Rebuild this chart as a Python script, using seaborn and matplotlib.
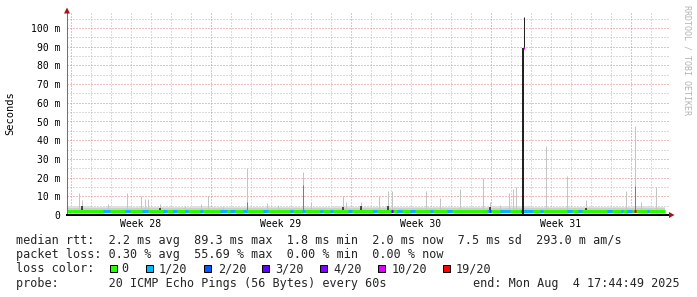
import matplotlib
matplotlib.use("Agg")
import matplotlib.pyplot as plt
from matplotlib.patches import Rectangle, Polygon
import numpy as np
import pandas as pd
import seaborn as sns

# ---------------- data (x: days since Mon 7 Jul 2025 00:00, y: ms) ----------------
week_labels = ["Week 28", "Week 29", "Week 30", "Week 31"]
week_mid_days = [3.5, 10.5, 17.5, 24.5]
week_start_days = [0, 7, 14, 21, 28]
day_lines = list(range(0, 30))
y_ticks = [0, 10, 20, 30, 40, 50, 60, 70, 80, 90, 100]
y_tick_labels = ["0", "10 m", "20 m", "30 m", "40 m", "50 m", "60 m", "70 m", "80 m", "90 m", "100 m"]
y_minor = [5, 15, 25, 35, 45, 55, 65, 75, 85, 95, 105]

data_start_day = -0.2
data_end_day = 29.7
median_ms = 1.95

# smoke (light grey band above the median line), one value per day
smoke_left_day = [-0.2, 1, 2, 3, 4, 5, 6, 7, 8, 9, 10, 11, 12, 13, 14, 15, 16, 17, 18, 19,
                  20, 21, 22, 23, 24, 25, 26, 27, 28, 29]
smoke_top_ms = [4.6, 4.3, 4.6, 4.5, 4.2, 4.3, 4.6, 4.3, 4.4, 4.2, 4.3, 4.4, 4.3, 4.6, 4.3,
                4.4, 4.5, 4.3, 4.2, 4.4, 4.5, 4.7, 4.8, 4.4, 4.3, 4.5, 4.4, 4.5, 4.6, 4.3]
smoke_low_ms = 2.8
smoke_dense_ms = 3.5

# loss colour segments of the median line (default is 0 loss = green)
loss_seg_start = [1.6, 2.7, 3.55, 4.6, 5.1, 5.7, 6.45, 7.45, 7.95, 8.6, 9.6, 10.95, 11.55,
                  12.45, 12.95, 13.85, 15.1, 16.3, 16.95, 17.95, 18.8, 20.8, 21.45, 22.6,
                  23.45, 24.8, 25.35, 26.8, 27.5, 27.8, 28.8]
loss_seg_end = [1.95, 2.95, 3.85, 4.8, 5.3, 5.85, 6.6, 7.8, 8.2, 8.8, 9.85, 11.1, 11.7,
                12.6, 13.1, 14.05, 15.3, 16.55, 17.2, 18.1, 19.05, 20.95, 21.95, 23.1,
                23.6, 25.05, 25.55, 27.05, 27.6, 28.05, 28.9]
loss_seg_level = ["1/20"] * 31

loss_mark_day = [16.05, 20.95, 22.55, 28.2]
loss_mark_level = ["3/20", "2/20", "2/20", "19/20"]

# light grey smoke spikes (max rtt of a 20-ping burst)
light_spike_day = [0.4, 0.55, 1.85, 2.8, 3.5, 3.7, 3.85, 4.45, 5.7, 6.5, 6.85, 7.6, 8.8, 9.8,
                   10.35, 11.6, 12.0, 13.6, 13.75, 14.5, 15.4, 15.85, 16.05, 17.75, 18.45,
                   19.45, 20.6, 20.95, 21.45, 21.9, 22.1, 22.25, 22.55, 23.75, 24.8, 25.75,
                   27.75, 28.2, 28.5, 29.25]
light_spike_top = [11.8, 8.0, 6.0, 11.8, 10.0, 8.5, 8.5, 6.0, 5.0, 6.0, 10.0, 4.3, 25.0, 6.4,
                   5.3, 23.0, 7.0, 10.0, 7.0, 7.0, 10.0, 13.0, 12.8, 12.8, 9.0, 14.0, 20.0,
                   6.8, 5.5, 11.8, 14.0, 15.0, 26.0, 37.0, 21.0, 8.0, 12.8, 47.6, 6.8, 15.0]

# darker grey spikes
dark_spike_day = [8.8, 11.6, 28.2]
dark_spike_top = [7.0, 16.0, 15.5]

# black spikes (dense smoke)
black_spike_day = [0.55, 4.45, 13.6, 14.5, 15.85, 20.95, 25.75]
black_spike_top = [4.6, 3.8, 4.2, 4.8, 4.8, 4.5, 4.0]

# the big outage spike
big_spike_day = 22.625
big_spike_median = 89.3
big_spike_max = 106.0

loss_colors = {"0": "#26ff00", "1/20": "#00b8ff", "2/20": "#0059ff", "3/20": "#5e00ff",
               "4/20": "#7e00ff", "10/20": "#dd00ff", "19/20": "#ff0000"}

legend_line1 = "median rtt:  2.2 ms avg  89.3 ms max  1.8 ms min  2.0 ms now  7.5 ms sd  293.0 m am/s"
legend_line2 = "packet loss: 0.30 % avg  55.69 % max  0.00 % min  0.00 % now"
legend_loss_title = "loss color:"
legend_loss_keys = ["0", "1/20", "2/20", "3/20", "4/20", "10/20", "19/20"]
legend_probe = "probe:       20 ICMP Echo Pings (56 Bytes) every 60s"
legend_end = "end: Mon Aug  4 17:44:49 2025"

# ---------------- figure ----------------
W, H = 697, 297
sns.set_theme(style="white")
plt.rcParams["font.family"] = ["DejaVu Sans Mono", "DejaVu Sans"]
fig = plt.figure(figsize=(W / 100, H / 100), dpi=100)
fig.patch.set_facecolor("white")

L, R, T, B = 67, 669, 13, 215
ax = fig.add_axes([L / W, 1 - B / H, (R - L) / W, (B - T) / H])
ax.set_facecolor("white")
px_per_day = 20.0
ax.set_xlim(-0.2, -0.2 + (R - L) / px_per_day)
ax.set_ylim(0, (B - T) / 1.87)

PX = 0.72  # one pixel in points
dots = (0, (1, 2))

# grid
grid_kw = dict(lw=PX, linestyle=dots)
for y in y_minor:
    ax.axhline(y, color="#b8b8b8", zorder=0.5, **grid_kw)
for y in y_ticks[1:]:
    ax.axhline(y, color="#dd8080", zorder=0.6, **grid_kw)
for d in day_lines:
    if d not in week_start_days:
        ax.axvline(d, color="#b8b8b8", zorder=0.5, **grid_kw)
for d in week_start_days:
    ax.axvline(d, color="#dd8080", zorder=0.6, **grid_kw)

# smoke
sx = smoke_left_day + [data_end_day]
st = smoke_top_ms + [smoke_top_ms[-1]]
ax.fill_between(sx, smoke_low_ms, st, step="post", color="#e0e0e0", lw=0, zorder=1)
ax.fill_between([data_start_day, data_end_day], smoke_low_ms, smoke_dense_ms,
                color="#cdcdcd", lw=0, zorder=1.1)

# spikes
ax.vlines(light_spike_day, smoke_low_ms, light_spike_top, colors="#c4c4c4", lw=PX, zorder=1.2)
ax.vlines(dark_spike_day, smoke_low_ms, dark_spike_top, colors="#7c7c7c", lw=PX, zorder=1.3)
ax.vlines(black_spike_day, smoke_low_ms, black_spike_top, colors="#1a1a1a", lw=PX * 1.5, zorder=1.4)

# big spike
ax.vlines([big_spike_day], 0, big_spike_median, colors="#222222", lw=2 * PX, zorder=3)
ax.vlines([big_spike_day + 0.025], big_spike_median, big_spike_max, colors="#222222", lw=PX, zorder=3)
ax.vlines([big_spike_day + 0.025], big_spike_median - 0.5, big_spike_median + 0.5,
          colors=loss_colors["10/20"], lw=1.3 * PX, zorder=3.1)

# median line coloured by loss
med = pd.DataFrame({"day": [data_start_day, data_end_day], "ms": [median_ms, median_ms]})
sns.lineplot(data=med, x="day", y="ms", ax=ax, color=loss_colors["0"], lw=3 * PX,
             solid_capstyle="butt", zorder=2)
for s, e, lv in zip(loss_seg_start, loss_seg_end, loss_seg_level):
    ax.hlines(median_ms, s, e, colors=loss_colors[lv], lw=3 * PX, zorder=2.1)
for d, lv in zip(loss_mark_day, loss_mark_level):
    ax.hlines(median_ms, d - 0.05, d + 0.05, colors=loss_colors[lv], lw=3 * PX, zorder=2.2)

# axes
ax.set_xlabel("")
ax.set_ylabel("")
for s in ["top", "right"]:
    ax.spines[s].set_visible(False)
ax.spines["left"].set_color("#707070")
ax.spines["left"].set_linewidth(PX)
ax.spines["bottom"].set_color("black")
ax.spines["bottom"].set_linewidth(2 * PX)
ax.set_yticks(y_ticks)
ax.set_yticklabels(y_tick_labels, fontsize=7, color="black")
ax.set_xticks(week_mid_days)
ax.set_xticklabels(week_labels, fontsize=7, color="black")
ax.tick_params(axis="y", length=0, pad=5)
ax.tick_params(axis="x", length=0, pad=3)

# arrows
def fig_poly(points, color):
    pts = [(x / W, 1 - y / H) for x, y in points]
    fig.patches.append(Polygon(pts, closed=True, transform=fig.transFigure,
                               facecolor=color, edgecolor=color, lw=0))

fig_poly([(64.0, 13.5), (70.0, 13.5), (67.0, 7.5)], "#a01818")
fig_poly([(669.0, 212.0), (669.0, 218.0), (674.5, 215.0)], "#a01818")

# axis title and watermark
fig.text(10.5 / W, 1 - 113 / H, "Seconds", rotation=90, fontsize=7.5,
         ha="center", va="center", color="black")
fig.text(687 / W, 1 - 60 / H, "RRDTOOL / TOBI OETIKER", rotation=270, fontsize=6,
         ha="center", va="center", color="#b4b4b4")

# legend
FS = 8.5
fig.text(16 / W, 1 - 244 / H, legend_line1, fontsize=FS, ha="left", va="baseline")
fig.text(16 / W, 1 - 258.3 / H, legend_line2, fontsize=FS, ha="left", va="baseline")
fig.text(16 / W, 1 - 272.5 / H, legend_loss_title, fontsize=FS, ha="left", va="baseline")
box_left = [109.5, 146.0, 203.5, 261.5, 319.5, 378.0, 442.5]
text_left = [121.0, 159.0, 218.0, 275.5, 333.0, 391.5, 456.0]
for k, bx, tx in zip(legend_loss_keys, box_left, text_left):
    fig.patches.append(Rectangle((bx / W, 1 - 271.5 / H), 7 / W, 7 / H,
                                 transform=fig.transFigure, facecolor=loss_colors[k],
                                 edgecolor="black", lw=PX))
    fig.text(tx / W, 1 - 272.5 / H, k, fontsize=FS, ha="left", va="baseline")
fig.text(16 / W, 1 - 286.7 / H, legend_probe, fontsize=FS, ha="left", va="baseline")
fig.text(680 / W, 1 - 286.7 / H, legend_end, fontsize=FS, ha="right", va="baseline")

fig.savefig("out.png", dpi=100, facecolor="white")
